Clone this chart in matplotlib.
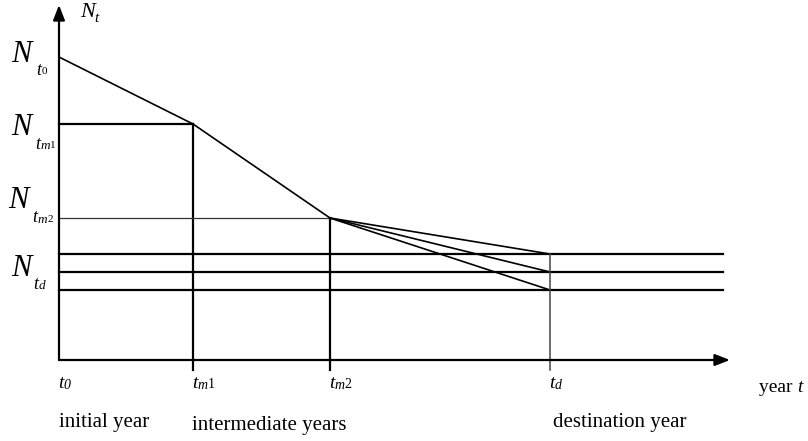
import matplotlib
matplotlib.use("Agg")
import matplotlib.pyplot as plt

plt.rcParams['font.family'] = ['Liberation Serif', 'DejaVu Serif']

# schematic values (relative units)
years = [0, 134, 271, 491]          # t0, tm1, tm2, td
year_subs = ['0', 'm1', 'm2', 'd']
year_names = ['initial year', 'intermediate years', '', 'destination year']
N_start = 303                        # N_t0
N_m1 = 236
N_m2 = 142
N_dest = [106, 88, 70]               # three destination scenarios
N_subs = ['0', 'm1', 'm2', 'd']
N_label_vals = [N_start, N_m1, N_m2, N_dest[1]]

x_end = 664
x_arrow = 671
y_arrow = 355

fig = plt.figure(figsize=(8.08, 4.41), dpi=100)
ax = fig.add_axes([0, 0, 1, 1])
ax.set_xlim(-59, 749)
ax.set_ylim(-81, 360)
ax.axis('off')
renderer = fig.canvas.get_renderer()

lw = 1.6
ap = dict(arrowstyle='-|>,head_length=0.9,head_width=0.35', lw=lw, color='black',
          shrinkA=0, shrinkB=0)
ax.annotate('', xy=(0, y_arrow), xytext=(0, 0), arrowprops=ap)
ax.annotate('', xy=(x_arrow, 0), xytext=(0, 0), arrowprops=ap)

# decline path
ax.plot([years[0], years[1]], [N_start, N_m1], color='black', lw=1.2)
ax.plot([years[1], years[2]], [N_m1, N_m2], color='black', lw=1.2)
for nd in N_dest:
    ax.plot([years[2], years[3]], [N_m2, nd], color='black', lw=1.2)
    ax.plot([0, x_end], [nd, nd], color='black', lw=lw)

# reference lines
ax.plot([0, years[1]], [N_m1, N_m1], color='black', lw=lw)
ax.plot([years[1], years[1]], [N_m1, -10], color='black', lw=lw)
ax.plot([0, years[2]], [N_m2, N_m2], color='#333333', lw=0.9)
ax.plot([years[2], years[2]], [N_m2, -10], color='black', lw=lw)
ax.plot([years[3], years[3]], [N_dest[0], -10], color='#444444', lw=1.1)


def chain(x, pieces, gap=0.3):
    """Draw text pieces one after another; pieces = (text, size, italic, baseline y)."""
    for s, size, it, y in pieces:
        t = ax.text(x, y, s, fontsize=size, style='italic' if it else 'normal',
                    ha='left', va='baseline')
        bb = t.get_window_extent(renderer)
        x += bb.width + gap
    return x


def sub_pieces(sub, size_letter, size_digit, y):
    if sub.startswith('m'):
        return [('m', size_letter, True, y), (sub[1], size_digit, False, y + 0.5)]
    if sub == 'd':
        return [('d', size_letter, True, y)]
    return [(sub, size_digit, False, y)]


# y labels: N with nested subscripts
# (x of N, N baseline offset, x of t, t baseline offset, sub baseline offset)
ylab_pos = [(-48, -5, -23, -18, -17),
            (-48, -11, -24, -25, -25),
            (-51, 10, -27, -4, -5),
            (-48, -4, -26, -17, -17)]
for sub, v, (nx, nb, tx, tb, sb) in zip(N_subs, N_label_vals, ylab_pos):
    ax.text(nx, v + nb, 'N', fontsize=22, style='italic', ha='left', va='baseline')
    x = chain(tx, [('t', 13, True, v + tb)], gap=0.3)
    chain(x, sub_pieces(sub, 9.5, 8, v + sb), gap=0.3)

ax.text(21, 343, 'N', fontsize=16, style='italic', ha='left', va='baseline')
ax.text(35.5, 338, 't', fontsize=11, style='italic', ha='left', va='baseline')

# x labels
for yv, sub in zip(years, year_subs):
    x = chain(yv - 1, [('t', 14, True, -28)], gap=0.0)
    pcs = sub_pieces(sub, 10, 10, -29)
    if sub == '0':
        pcs = [('0', 10, True, -29)]
    chain(x, pcs, gap=0.2)

name_pos = [(0, -67), (-1, -70), (0, 0), (3, -67)]
for yv, name, (dx, by) in zip(years, year_names, name_pos):
    if name:
        ax.text(yv + dx, by, name, fontsize=15, ha='left', va='baseline')
chain(700, [('year ', 14, False, -32), ('t', 14, True, -32)], gap=0.0)

fig.savefig('out.png', dpi=100)
